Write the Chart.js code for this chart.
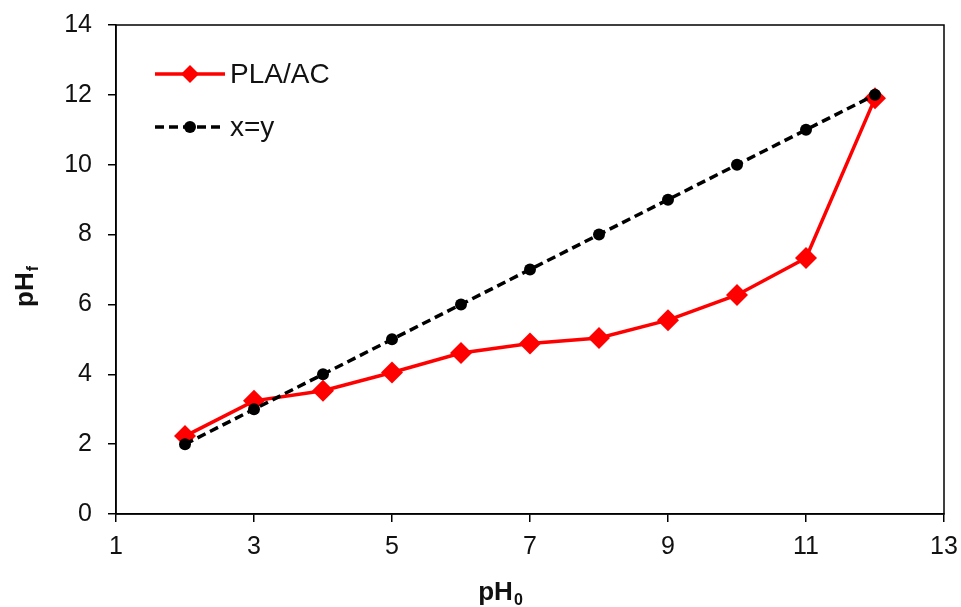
<!DOCTYPE html>
<html>
<head>
<meta charset="utf-8">
<script src="https://cdn.jsdelivr.net/npm/chart.js@4/dist/chart.umd.min.js"></script>
<style>
  html, body { margin: 0; padding: 0; background: #fff; }
  canvas { display: block; }
</style>
</head>
<body>
<canvas id="phChart" width="961" height="607"></canvas>
<script>
// values
const phInitial = [2, 3, 4, 5, 6, 7, 8, 9, 10, 11, 12];
const phFinalPLA = [2.23, 3.24, 3.53, 4.05, 4.61, 4.88, 5.04, 5.55, 6.27, 7.33, 11.9];
const phIdentity = [2, 3, 4, 5, 6, 7, 8, 9, 10, 11, 12];
const seriesNames = ["PLA/AC", "x=y"];

const FONT = "'Liberation Sans', Arial, sans-serif";

const toPoints = (xs, ys) => xs.map((x, i) => ({ x: x, y: ys[i] }));

// text with a subscript, centred on cx along the baseline
function subText(ctx, main, sub, cx, y) {
  ctx.font = "bold 26px " + FONT;
  const mw = ctx.measureText(main).width;
  ctx.font = "bold 16px " + FONT;
  const sw = ctx.measureText(sub).width;
  const x0 = cx - (mw + sw) / 2;
  ctx.font = "bold 26px " + FONT;
  ctx.fillText(main, x0, y);
  ctx.font = "bold 16px " + FONT;
  ctx.fillText(sub, x0 + mw + 1, y + 5);
}

// box round the plot, axis titles with subscripts, legend inside the plot
const decorations = {
  id: "decorations",
  afterDatasetsDraw(chart) {
    const { ctx, chartArea: a } = chart;
    ctx.save();
    ctx.strokeStyle = "#000";
    ctx.lineWidth = 1.5;
    ctx.strokeRect(a.left, a.top, a.right - a.left, a.bottom - a.top);

    // legend
    const lx = 155, lw = 70;
    const rows = [
      { y: 74, color: "#ff0000", dash: [], style: "diamond", label: seriesNames[0] },
      { y: 127, color: "#000", dash: [9, 5], style: "circle", label: seriesNames[1] }
    ];
    rows.forEach(r => {
      ctx.strokeStyle = r.color;
      ctx.lineWidth = 3.5;
      ctx.setLineDash(r.dash);
      ctx.beginPath();
      ctx.moveTo(lx, r.y);
      ctx.lineTo(lx + lw, r.y);
      ctx.stroke();
      ctx.setLineDash([]);
      ctx.fillStyle = r.color;
      const cx = 190;
      ctx.beginPath();
      if (r.style === "diamond") {
        ctx.moveTo(cx, r.y - 9);
        ctx.lineTo(cx + 9, r.y);
        ctx.lineTo(cx, r.y + 9);
        ctx.lineTo(cx - 9, r.y);
        ctx.closePath();
      } else {
        ctx.arc(cx, r.y, 6, 0, Math.PI * 2);
      }
      ctx.fill();
      ctx.fillStyle = "#111";
      ctx.font = "28px " + FONT;
      ctx.textBaseline = "middle";
      ctx.textAlign = "left";
      ctx.fillText(r.label, 230, r.y + 1);
    });

    // axis titles
    ctx.fillStyle = "#111";
    ctx.textBaseline = "alphabetic";
    subText(ctx, "pH", "0", 500, 600);

    ctx.translate(33, 287);
    ctx.rotate(-Math.PI / 2);
    subText(ctx, "pH", "f", 0, 0);
    ctx.restore();
  }
};

new Chart(document.getElementById("phChart").getContext("2d"), {
  type: "line",
  data: {
    datasets: [
      {
        label: seriesNames[0],
        data: toPoints(phInitial, phFinalPLA),
        borderColor: "#ff0000",
        backgroundColor: "#ff0000",
        borderWidth: 3.5,
        pointStyle: "rectRot",
        pointRadius: 11,
        pointBorderWidth: 0,
        tension: 0,
        order: 1
      },
      {
        label: seriesNames[1],
        data: toPoints(phInitial, phIdentity),
        borderColor: "#000",
        backgroundColor: "#000",
        borderWidth: 3.5,
        borderDash: [9, 5],
        pointStyle: "circle",
        pointRadius: 6,
        pointBorderWidth: 0,
        tension: 0,
        order: 0
      }
    ]
  },
  options: {
    responsive: false,
    animation: false,
    layout: { padding: { left: 0, top: 25, right: 17, bottom: 0 } },
    plugins: {
      legend: { display: false },
      tooltip: { enabled: false }
    },
    scales: {
      x: {
        type: "linear",
        min: 1,
        max: 13,
        ticks: { stepSize: 2, color: "#111", font: { family: FONT, size: 25 }, padding: 10 },
        grid: { drawOnChartArea: false, drawTicks: true, tickLength: 8, color: "#000", lineWidth: 1.5 },
        border: { color: "#000", width: 1.5 },
        afterFit: s => { s.height = 93; s.paddingLeft = 0; s.paddingRight = 0; }
      },
      y: {
        min: 0,
        max: 14,
        ticks: { stepSize: 2, color: "#111", font: { family: FONT, size: 25 }, padding: 16 },
        grid: { drawOnChartArea: false, drawTicks: true, tickLength: 8, color: "#000", lineWidth: 1.5 },
        border: { color: "#000", width: 1.5 },
        afterFit: s => { s.width = 116; s.paddingTop = 0; s.paddingBottom = 0; }
      }
    }
  },
  plugins: [decorations]
});
</script>
</body>
</html>
